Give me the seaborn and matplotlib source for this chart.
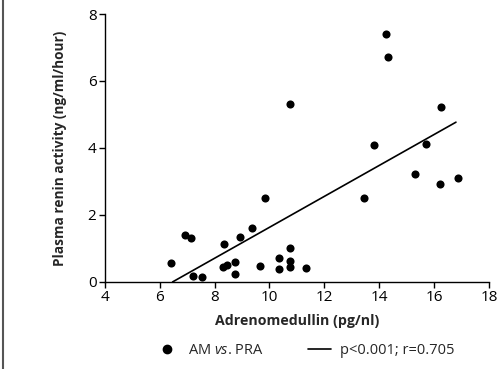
import matplotlib
matplotlib.use('Agg')
import matplotlib.pyplot as plt
import seaborn as sns
import pandas as pd
from matplotlib.lines import Line2D

# values
adrenomedullin = [6.43, 6.93, 7.15, 7.22, 7.54, 8.34, 8.31, 8.45, 8.73, 8.74,
                  8.93, 9.35, 9.64, 9.83, 10.34, 10.34, 10.74, 10.74, 10.74, 10.74,
                  11.35, 13.43, 13.82, 14.24, 14.34, 15.31, 15.71, 16.24, 16.22, 16.86]
renin = [0.57, 1.41, 1.31, 0.19, 0.15, 1.13, 0.45, 0.51, 0.60, 0.23,
         1.35, 1.60, 0.47, 2.51, 0.71, 0.39, 5.31, 1.00, 0.62, 0.46,
         0.41, 2.51, 4.10, 7.41, 6.71, 3.21, 4.12, 5.21, 2.91, 3.09]
fit_x = [6.47, 16.8]
fit_y = [0.0, 4.77]

df = pd.DataFrame({'AM': adrenomedullin, 'PRA': renin})
fit = pd.DataFrame({'x': fit_x, 'y': fit_y})

sns.set_style('ticks')
plt.rcParams['font.family'] = ['Open Sans', 'DejaVu Sans']
plt.rcParams['mathtext.fontset'] = 'custom'
plt.rcParams['mathtext.rm'] = 'Open Sans'
plt.rcParams['mathtext.it'] = 'Open Sans:italic'

fig = plt.figure(figsize=(5.04, 3.69), dpi=100)
ax = fig.add_axes([0.208, 0.236, 0.762, 0.726])

sns.scatterplot(data=df, x='AM', y='PRA', ax=ax, color='black', s=34,
                edgecolor='black', linewidth=0, zorder=3)
sns.lineplot(data=fit, x='x', y='y', ax=ax, color='black', linewidth=1.2)

ax.set_xlim(4, 18)
ax.set_ylim(0, 8)
ax.set_xticks(range(4, 19, 2))
ax.set_yticks(range(0, 9, 2))
ax.tick_params(direction='out', length=4, width=1, labelsize=11, colors='black', pad=2)
for s in ['top', 'right']:
    ax.spines[s].set_visible(False)
for s in ['left', 'bottom']:
    ax.spines[s].set_linewidth(1)
    ax.spines[s].set_color('black')

ax.set_xlabel('Adrenomedullin (pg/nl)', fontsize=10.2, fontweight='bold', labelpad=6)
ax.set_ylabel('Plasma renin activity (ng/ml/hour)', fontsize=9.8, fontweight='bold', labelpad=15)

handles = [Line2D([], [], marker='o', color='black', linestyle='none', markersize=6),
           Line2D([], [], color='black', linewidth=1.2)]
labels = [r'AM $\mathit{vs}$. PRA', 'p<0.001; r=0.705']
fig.legend(handles, labels, loc='center', bbox_to_anchor=(0.605, 0.05), ncol=2,
           frameon=False, fontsize=10.5, columnspacing=3.0, handlelength=1.6,
           handletextpad=0.6)

fig.add_artist(Line2D([0.006, 0.006], [0, 1], color='#555555', linewidth=1.5))

fig.savefig('out.png', dpi=100)
